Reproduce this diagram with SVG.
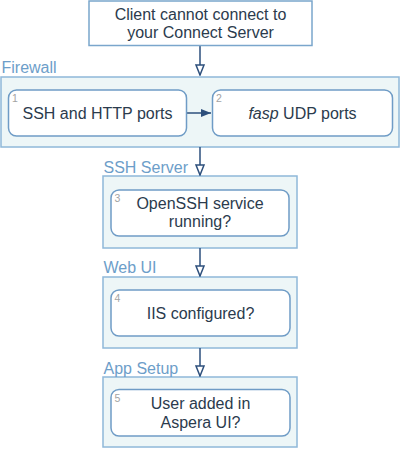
<svg xmlns="http://www.w3.org/2000/svg" width="400" height="449" viewBox="0 0 400 449">
<style>
.cont{fill:#edf6f7;stroke:#8fb8d9;stroke-width:1.5}
.box{fill:#ffffff;stroke:#6f9cc6;stroke-width:1.5}
.top{fill:#ffffff;stroke:#7aa6cc;stroke-width:1.5}
.t{font-family:"Liberation Sans",Arial,sans-serif;font-size:16px;fill:#2b3b4d;text-anchor:middle}
.lbl{font-family:"Liberation Sans",Arial,sans-serif;font-size:16px;fill:#6d9ec9}
.num{font-family:"Liberation Sans",Arial,sans-serif;font-size:10.5px;fill:#a3a3a3}
.conn{stroke:#2d4f7c;stroke-width:1.5;fill:none}
</style>
<defs>
<marker id="open" markerUnits="userSpaceOnUse" markerWidth="12" markerHeight="12" viewBox="0 0 12 12" refX="11" refY="6" orient="auto">
<path d="M1,2 L11,6 L1,10 Z" fill="#ffffff" stroke="#2d4f7c" stroke-width="1.5" stroke-linejoin="miter"/>
</marker>
<marker id="fill" markerUnits="userSpaceOnUse" markerWidth="11" markerHeight="10" viewBox="0 0 11 10" refX="10" refY="5" orient="auto">
<path d="M0,1 L10,5 L0,9 Z" fill="#2d4f7c"/>
</marker>
</defs>

<g id="containers">
<g id="firewall">
<rect class="cont" x="1" y="77" width="398" height="70"/>
<text class="lbl" x="1.5" y="72.5">Firewall</text>
</g>
<g id="ssh-server">
<rect class="cont" x="103" y="176" width="194" height="72"/>
<text class="lbl" x="103.5" y="173">SSH Server</text>
</g>
<g id="web-ui">
<rect class="cont" x="103" y="277" width="194" height="71"/>
<text class="lbl" x="103.5" y="273">Web UI</text>
</g>
<g id="app-setup">
<rect class="cont" x="103" y="377" width="194" height="70"/>
<text class="lbl" x="103.5" y="374">App Setup</text>
</g>
</g>

<g id="connectors">
<line class="conn" x1="200" y1="45.5" x2="200" y2="75" marker-end="url(#open)"/>
<line class="conn" x1="200" y1="147" x2="200" y2="175" marker-end="url(#open)"/>
<line class="conn" x1="200" y1="248" x2="200" y2="276" marker-end="url(#open)"/>
<line class="conn" x1="200" y1="348" x2="200" y2="376" marker-end="url(#open)"/>
<line class="conn" x1="187" y1="113" x2="211" y2="113" marker-end="url(#fill)"/>
</g>

<g id="start">
<rect class="top" x="89" y="1" width="223" height="44.5"/>
<text class="t" x="200.5" y="19.5">Client cannot connect to</text>
<text class="t" x="200.5" y="37.5">your Connect Server</text>
</g>

<g id="node1">
<rect class="box" x="8.5" y="90" width="178" height="46" rx="8"/>
<text class="num" x="12" y="102">1</text>
<text class="t" x="97.5" y="118.7">SSH and HTTP ports</text>
</g>

<g id="node2">
<rect class="box" x="212.5" y="90" width="180" height="46" rx="8"/>
<text class="num" x="216" y="102">2</text>
<text class="t" x="302.5" y="118.7"><tspan font-style="italic">fasp</tspan> UDP ports</text>
</g>

<g id="node3">
<rect class="box" x="111" y="190" width="178" height="46" rx="8"/>
<text class="num" x="114.5" y="202">3</text>
<text class="t" x="200" y="208.5">OpenSSH service</text>
<text class="t" x="200" y="226.5">running?</text>
</g>

<g id="node4">
<rect class="box" x="111" y="290" width="179" height="46" rx="8"/>
<text class="num" x="114.5" y="302">4</text>
<text class="t" x="200.5" y="318.7">IIS configured?</text>
</g>

<g id="node5">
<rect class="box" x="111" y="389.5" width="179" height="46.5" rx="8"/>
<text class="num" x="114.5" y="401.5">5</text>
<text class="t" x="200.5" y="408.5">User added in</text>
<text class="t" x="200.5" y="427.5">Aspera UI?</text>
</g>
</svg>
